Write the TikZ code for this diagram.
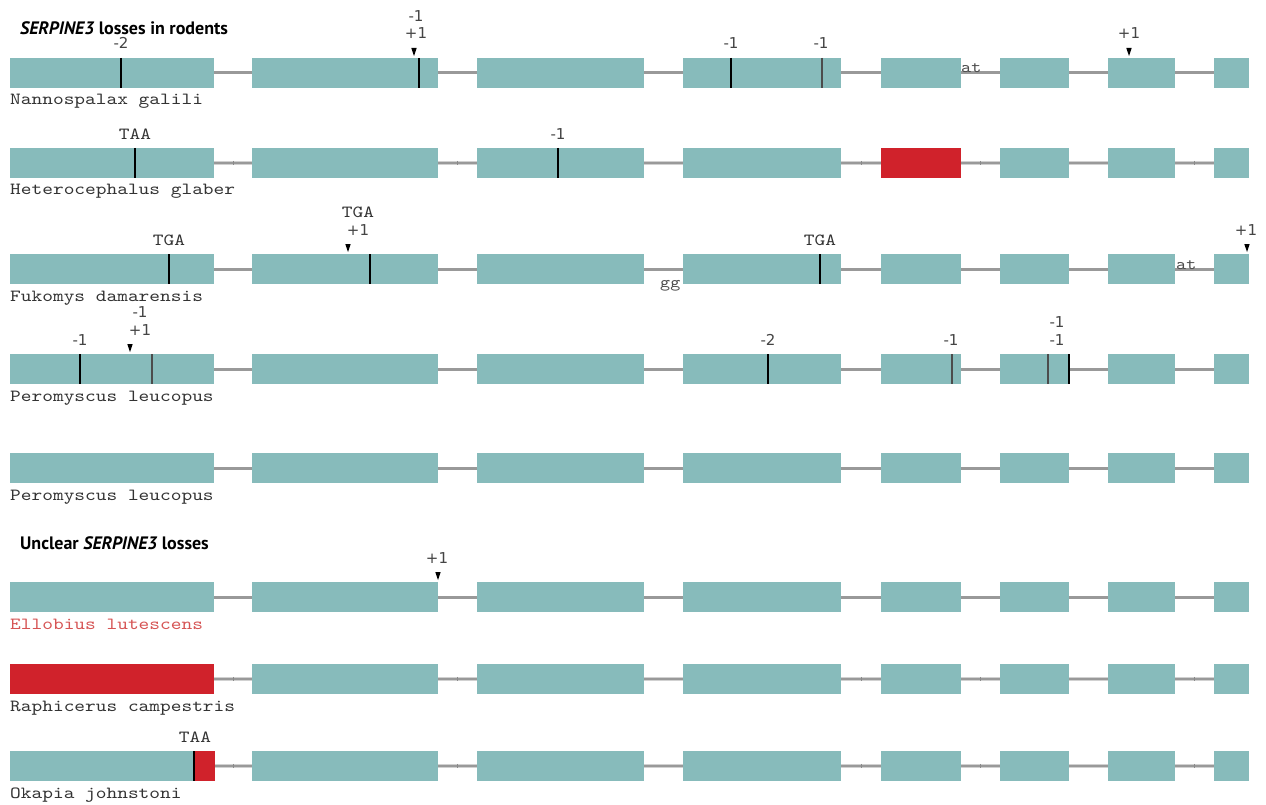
\documentclass[tikz,border=0pt]{standalone}
\usepackage{fontspec}
\setmainfont{PT Sans}
\newfontfamily\monof{lmmono10-regular.otf}[FakeStretch=1.2]
\newfontfamily\numf{DejaVu Sans}
\usetikzlibrary{calc}
\definecolor{exon}{HTML}{87BBBB}
\definecolor{intron}{HTML}{999999}
\definecolor{lossred}{HTML}{D0222B}
\definecolor{lbl}{HTML}{444444}
\definecolor{namered}{HTML}{D65454}
\tikzset{
 exonbox/.style={draw=none, fill=exon, inner sep=0, outer sep=0, minimum height=30pt, anchor=north west},
 intronline/.style={draw=intron, line width=3pt},
 halointron/.style={draw=intron!45, line width=0.9pt, double=intron, double distance=2.6pt},
 introntick/.style={draw=intron!90!black, line width=0.6pt},
 species/.style={font=\monof\fontsize{17}{20}\selectfont, text=black!80, anchor=base west, inner sep=0},
 codon/.style={font=\monof\fontsize{17}{20}\selectfont, text=black!80, anchor=base, inner sep=0},
 seqbase/.style={font=\monof\fontsize{16}{20}\selectfont, text=black!70, anchor=base west, inner sep=0},
 fshift/.style={font=\numf\fontsize{15}{18}\selectfont, text=lbl, anchor=base, inner sep=0},
 mut/.style={draw=black, line width=1.1pt},
 graymut/.style={draw=black!70, line width=1.8pt},
 stopmut/.style={draw=black, line width=2.8pt},
 marker/.style={fill=black, draw=none},
 heading/.style={font=\bfseries\fontsize{18}{21}\selectfont, anchor=base west, inner sep=0},
}
% #1 prefix, #2 top y, #3 intron style
\newcommand\generow[3]{%
  \foreach \a/\b [count=\i] in {10/214,252/438,477/644,683/841,881/961,1000/1069,1108/1175,1214/1249} {
    \node[exonbox, minimum width={\b-\a}] (#1\i) at (\a,#2) {};
  }
  \foreach \i [evaluate=\i as \j using int(\i+1)] in {1,...,7} {
    \draw[#3] (#1\i.east) -- (#1\j.west);
  }
}
\newcommand\introticks[1]{%
  \foreach \i [evaluate=\i as \j using int(\i+1)] in {1,2,4,5,7} {
    \draw[introntick] ($(#1\i.east)!0.5!(#1\j.west)+(0,-2.2)$) -- ++(0,4.4);
  }
}
\newcommand\mutmark[3]{\draw[#1] (#2,#3) -- (#2,#3+30);}
\newcommand\tri[2]{\fill[marker] (#1-2.7,#2-10) -- (#1+2.7,#2-10) -- (#1,#2-2) -- cycle;}
\begin{document}
\begin{tikzpicture}[x=1pt,y=-1pt]
\useasboundingbox (0,0) rectangle (1266,805);
\fill[white] (0,0) rectangle (1266,805);

% headings
\node[heading] (h1) at (20,35) {\textit{SERPINE3} losses in rodents};
\node[heading] (h2) at (20,549) {Unclear \textit{SERPINE3} losses};

% ---------- row 1: Nannospalax galili
\generow{a}{58}{intronline}
\mutmark{mut}{121}{58}
\mutmark{mut}{419}{58}
\mutmark{mut}{731}{58}
\mutmark{graymut}{822}{58}
\tri{414}{58}
\tri{1129}{58}
\node[fshift] (a-l1) at (121,49) {-2};
\node[fshift] (a-l2) at (416,22) {-1};
\node[fshift] (a-l3) at (416,38.5) {+1};
\node[fshift] (a-l4) at (731,49) {-1};
\node[fshift] (a-l5) at (821,49) {-1};
\node[seqbase] (a-l6) at (961,73) {at};
\node[fshift] (a-l7) at (1129,39) {+1};
\node[species] (a-n) at (10,105) {Nannospalax galili};

% ---------- row 2: Heterocephalus glaber
\generow{b}{148}{halointron}
\introticks{b}
\fill[lossred] (b5.north west) rectangle (b5.south east);
\mutmark{stopmut}{135}{148}
\mutmark{mut}{558}{148}
\node[codon] (b-l1) at (135,140) {TAA};
\node[fshift] (b-l2) at (558,140) {-1};
\node[species] (b-n) at (10,195) {Heterocephalus glaber};

% ---------- row 3: Fukomys damarensis
\generow{c}{254}{intronline}
\mutmark{stopmut}{169}{254}
\mutmark{stopmut}{370}{254}
\mutmark{stopmut}{820}{254}
\tri{348}{254}
\tri{1247}{254}
\node[codon] (c-l1) at (169,245) {TGA};
\node[codon] (c-l2) at (358,218) {TGA};
\node[fshift] (c-l3) at (358,235) {+1};
\node[seqbase] (c-l4) at (660,287) {gg};
\node[codon] (c-l5) at (820,245) {TGA};
\node[seqbase] (c-l6) at (1176,269) {at};
\node[fshift] (c-l7) at (1246,235) {+1};
\node[species] (c-n) at (10,301) {Fukomys damarensis};

% ---------- row 4: Peromyscus leucopus
\generow{d}{354}{intronline}
\mutmark{mut}{80}{354}
\mutmark{graymut}{152}{354}
\mutmark{stopmut}{768}{354}
\mutmark{graymut}{952}{354}
\mutmark{graymut}{1048}{354}
\mutmark{mut}{1069}{354}
\tri{130}{354}
\node[fshift] (d-l1) at (80,345) {-1};
\node[fshift] (d-l2) at (140,317.5) {-1};
\node[fshift] (d-l3) at (140,335) {+1};
\node[fshift] (d-l4) at (768,345) {-2};
\node[fshift] (d-l5) at (951,345) {-1};
\node[fshift] (d-l6) at (1057,327) {-1};
\node[fshift] (d-l7) at (1057,345) {-1};
\node[species] (d-n) at (10,401) {Peromyscus leucopus};

% ---------- row 5: Peromyscus leucopus
\generow{e}{453}{intronline}
\node[species] (e-n) at (10,500) {Peromyscus leucopus};

% ---------- row 6: Ellobius lutescens
\generow{f}{582}{intronline}
\tri{438}{582}
\node[fshift] (f-l1) at (437,563) {+1};
\node[species, text=namered] (f-n) at (10,629) {Ellobius lutescens};

% ---------- row 7: Raphicerus campestris
\generow{g}{664}{halointron}
\introticks{g}
\fill[lossred] (g1.north west) rectangle (g1.south east);
\node[species] (g-n) at (10,711) {Raphicerus campestris};

% ---------- row 8: Okapia johnstoni
\generow{h}{751}{halointron}
\introticks{h}
\fill[lossred] (194,751) rectangle (215,781);
\draw[mut] (194,751) -- (194,781);
\node[codon] (h-l1) at (195,742) {TAA};
\node[species] (h-n) at (10,798) {Okapia johnstoni};
\end{tikzpicture}
\end{document}
